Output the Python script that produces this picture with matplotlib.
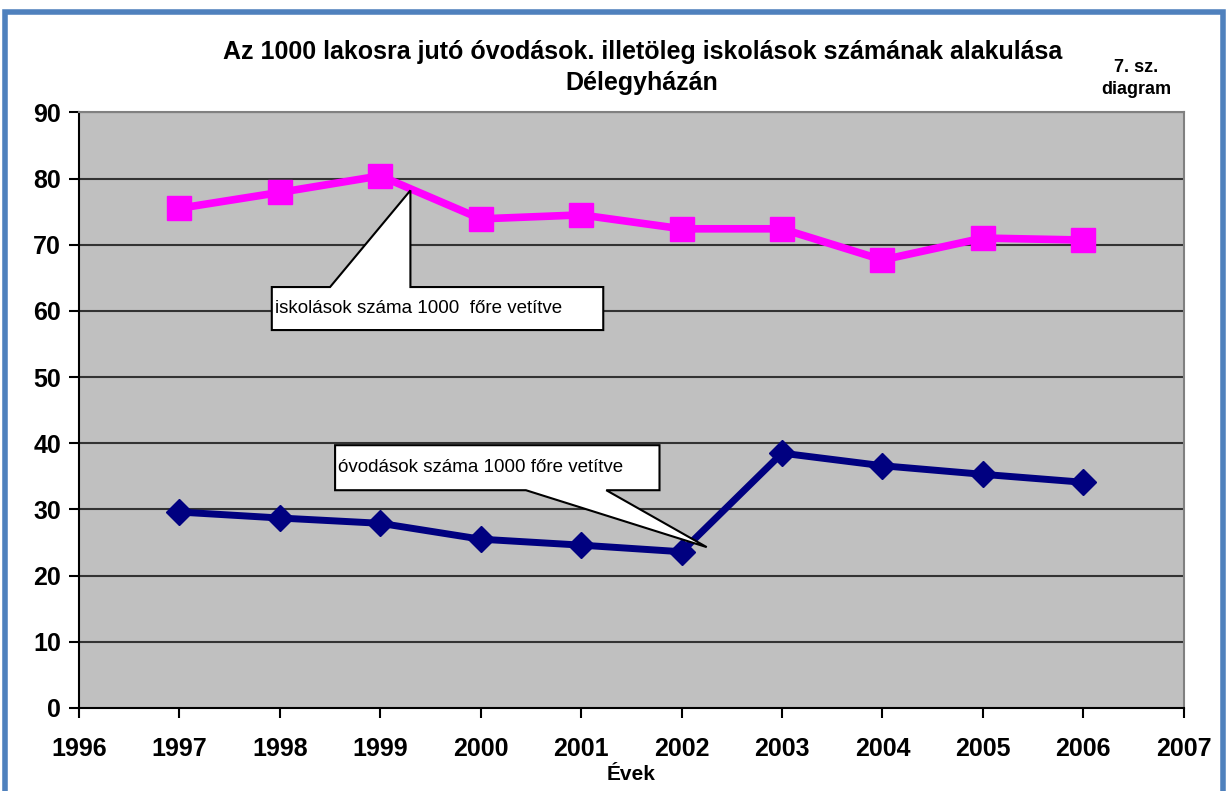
import numpy as np
import matplotlib
matplotlib.use("Agg")
import matplotlib.pyplot as plt
from matplotlib.patches import Polygon, Rectangle

plt.rcParams['font.family'] = ['Liberation Sans', 'DejaVu Sans']

years = [1997, 1998, 1999, 2000, 2001, 2002, 2003, 2004, 2005, 2006]
iskolasok = [75.5, 77.9, 80.4, 73.9, 74.5, 72.4, 72.4, 67.7, 71.0, 70.7]
ovodasok = [29.6, 28.7, 27.9, 25.5, 24.6, 23.6, 38.5, 36.6, 35.3, 34.1]
x_ticks = list(range(1996, 2008))
y_ticks = list(range(0, 100, 10))

title = "Az 1000 lakosra jutó óvodások. illetöleg iskolások számának alakulása\nDélegyházán"
label_isk = "iskolások száma 1000  főre vetítve"
label_ovi = "óvodások száma 1000 főre vetítve"


def callout(ax, box, base, tip, text, side):
    # box = (x0, x1, y0, y1); base = wedge start/end on box edge
    x0, x1, y0, y1 = box
    if side == 'top':
        pts = [(x0, y0), (x0, y1), (base[0], y1), tip, (base[1], y1), (x1, y1), (x1, y0)]
    else:
        pts = [(x0, y1), (x1, y1), (x1, y0), (base[1], y0), tip, (base[0], y0), (x0, y0)]
    ax.add_patch(Polygon(pts, closed=True, facecolor='white', edgecolor='black',
                         linewidth=1.5, zorder=5))
    ax.text(x0 + 0.03, (y0 + y1) / 2, text, fontsize=13.5, va='center', ha='left',
            zorder=6, color='black')


fig = plt.figure(figsize=(12.28, 7.91), dpi=100)
fig.patch.set_facecolor('white')
ax = fig.add_axes([0.0643, 0.105, 0.8997, 0.753])
ax.set_facecolor('#c0c0c0')

for v in y_ticks[1:]:
    ax.axhline(v, color='#333333', linewidth=1.5, zorder=1)

ax.plot(years, iskolasok, color='#ff00ff', linewidth=5.5, marker='s',
        markersize=17, zorder=3)
ax.plot(years, ovodasok, color='#000080', linewidth=5, marker='D',
        markersize=13, zorder=3)

callout(ax, (1997.92, 2001.22, 57.1, 63.6), (1998.5, 1999.3), (1999.3, 78.2),
        label_isk, 'top')
callout(ax, (1998.55, 2001.78, 32.9, 39.7), (2000.45, 2001.25), (2002.25, 24.3),
        label_ovi, 'bottom')

ax.set_xlim(1996, 2007)
ax.set_ylim(0, 90)
ax.set_xticks(x_ticks)
ax.set_yticks(y_ticks)
ax.tick_params(axis='both', direction='out', length=7, width=1.5, labelsize=18)
ax.tick_params(axis='x', pad=14)
ax.tick_params(axis='y', pad=6)
for lab in ax.get_xticklabels() + ax.get_yticklabels():
    lab.set_fontweight('bold')
for s in ['left', 'bottom']:
    ax.spines[s].set_color('black')
    ax.spines[s].set_linewidth(1.5)
for s in ['top', 'right']:
    ax.spines[s].set_color('#808080')
    ax.spines[s].set_linewidth(1.5)

ax.set_xlabel("Évek", fontsize=15, fontweight='bold', labelpad=3)
fig.text(0.523, 0.915, title, ha='center', va='center', fontsize=18,
         fontweight='bold', linespacing=1.35)
fig.text(0.925, 0.901, "7. sz.\ndiagram", ha='center', va='center', fontsize=13,
         fontweight='bold', linespacing=1.35)

# blue frame around the whole chart
fig.patches.append(Rectangle((0.004, -0.02), 0.992, 1.005, transform=fig.transFigure,
                             fill=False, edgecolor='#4f81bd', linewidth=4))

fig.savefig('out.png', dpi=100)
